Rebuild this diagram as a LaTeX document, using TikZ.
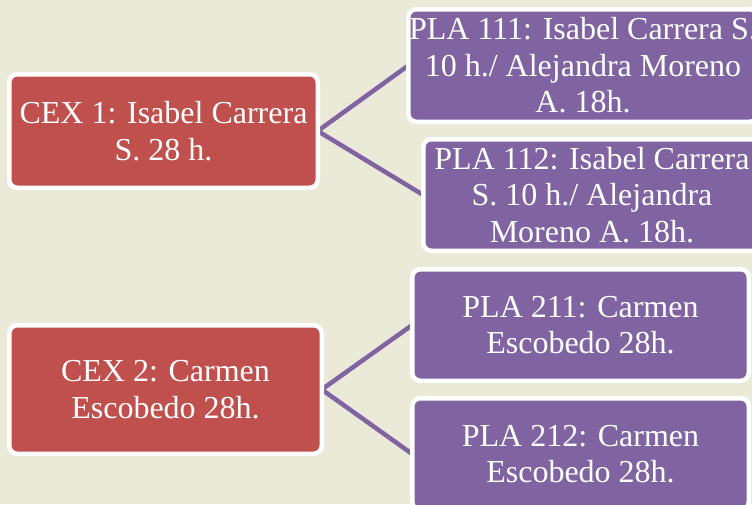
\documentclass[tikz,border=0pt]{standalone}
\usepackage{fontspec}
\setmainfont{Liberation Serif}
\usetikzlibrary{backgrounds}
\definecolor{bgbeige}{HTML}{EBE9D8}
\definecolor{cexred}{HTML}{C0504D}
\definecolor{plapurple}{HTML}{8064A2}
\begin{document}
\begin{tikzpicture}[x=1pt,y=-1pt,
  boxbase/.style={draw=white, line width=4.5pt, rounded corners=8pt, inner sep=0pt, outer sep=0pt,
    text=white, align=center, font=\fontsize{32}{36.5}\selectfont},
  cexbox/.style={boxbase, fill=cexred},
  plabox/.style={boxbase, fill=plapurple},
  link/.style={draw=plapurple, line width=4.5pt}]
\useasboundingbox (0,0) rectangle (752,504);
\begin{scope}
\clip (0,0) rectangle (752,504);
\node[cexbox, minimum width=308.5pt, minimum height=113.5pt] (cex1) at (163.5,131) {CEX 1: Isabel Carrera\\S. 28 h.};
\node[cexbox, minimum width=312.5pt, minimum height=128.5pt] (cex2) at (165.5,389.5) {CEX 2: Carmen\\Escobedo 28h.};
\node[plabox, minimum width=349.5pt, minimum height=112.5pt] (pla111) at (583,65.5) {PLA 111: Isabel Carrera S.\\10 h./ Alejandra Moreno\\A. 18h.};
\node[plabox, minimum width=337.5pt, minimum height=111.5pt] (pla112) at (592,195) {PLA 112: Isabel Carrera\\S. 10 h./ Alejandra\\Moreno A. 18h.};
\node[plabox, minimum width=336.5pt, minimum height=111.5pt] (pla211) at (580.5,325) {PLA 211: Carmen\\Escobedo 28h.};
\node[plabox, minimum width=336.5pt, minimum height=111.5pt] (pla212) at (580.5,454) {PLA 212: Carmen\\Escobedo 28h.};
\begin{scope}[on background layer]
\fill[bgbeige] (0,0) rectangle (752,504);
\draw[link] (pla111.west) -- (cex1.east) -- (pla112.west);
\draw[link] (pla211.west) -- (cex2.east) -- (pla212.west);
\end{scope}
\end{scope}
\end{tikzpicture}
\end{document}
